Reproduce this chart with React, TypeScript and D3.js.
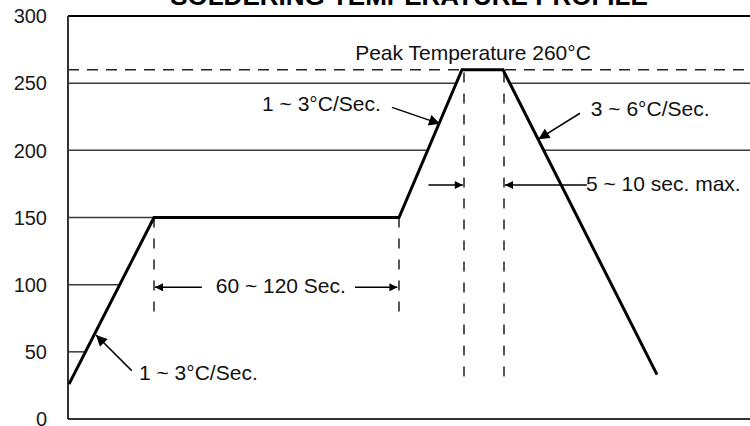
import React from 'react';
import * as d3 from 'd3';

// reflow profile (time in seconds, temperature in °C)
const profileTime = [0.5, 43, 165.5, 197, 217.5, 294.5];
const profileTemp = [26, 150, 150, 260, 260, 33];

const yTicks = [0, 50, 100, 150, 200, 250, 300];
const peakTemp = 260;
const title = 'SOLDERING TEMPERATURE PROFILE';

// dashed vertical markers
const markerTime = [43, 165.5, 198, 218];
const markerTop = [150, 150, 258, 258];
const markerBottom = [75, 77, 24, 24];

// annotation arrows [time, temp]
const arrowFrom = [[31.85, 36], [162, 232], [256, 227.6], [66.9, 98], [143.5, 98], [180.2, 174.2], [259.4, 174.2]];
const arrowTo = [[14, 62.5], [186, 219.7], [235.2, 208.3], [43.5, 98], [164.7, 98], [197.4, 174.2], [218.5, 174.2]];
const arrowBig = [true, true, true, false, false, false, false];

// annotation labels
const labelText = ['1 ~ 3°C/Sec.', '1 ~ 3°C/Sec.', '3 ~ 6°C/Sec.', 'Peak Temperature 260°C', '60 ~ 120 Sec.', '5 ~ 10 sec. max.'];
const labelTime = [35.5, 156.4, 261.4, 202.5, 106.4, 259];
const labelTemp = [29, 229.3, 225.8, 267.3, 93.6, 170];
const labelAnchor = ['start', 'end', 'start', 'middle', 'middle', 'start'];

const width = 750;
const height = 426;
const marginLeft = 68;
const marginTop = 16;
const marginBottom = 7;

const font = '"Liberation Sans", Arial, Helvetica, sans-serif';

export default function App() {
  const x = d3.scaleLinear().domain([0, 341]).range([marginLeft, width]);
  const y = d3.scaleLinear().domain([0, 300]).range([height - marginBottom, marginTop]);

  const pts: [number, number][] = profileTime.map((t, i) => [t, profileTemp[i]]);
  const line = d3.line<[number, number]>().x(d => x(d[0])).y(d => y(d[1]));
  const area = d3.area<[number, number]>().x(d => x(d[0])).y0(y(0)).y1(d => y(d[1]));

  // where the first ramp crosses a temperature
  const rampCross = (v: number) => {
    const t0 = profileTime[0], t1 = profileTime[1];
    const v0 = profileTemp[0], v1 = profileTemp[1];
    return t0 + ((v - v0) / (v1 - v0)) * (t1 - t0);
  };

  const gridColor = '#3a3a3a';

  return (
    <svg width={width} height={height} style={{ position: 'absolute', left: 0, top: 0, background: '#fff' }}>
      <defs>
        <marker id="headBig" viewBox="0 0 10 10" refX="10" refY="5" markerUnits="userSpaceOnUse"
          markerWidth="16" markerHeight="11" orient="auto">
          <path d="M0,0L10,5L0,10z" fill="#000" />
        </marker>
        <marker id="headSmall" viewBox="0 0 10 10" refX="10" refY="5" markerUnits="userSpaceOnUse"
          markerWidth="12" markerHeight="8" orient="auto">
          <path d="M0,0L10,5L0,10z" fill="#000" />
        </marker>
      </defs>

      <text x={(marginLeft + width) / 2} y={5} textAnchor="middle" fontFamily={font}
        fontWeight="bold" fontSize={26} fill="#000">{title}</text>

      {/* grid lines */}
      {yTicks.filter(v => v > 0 && v < 300).map(v => (
        <line key={v} x1={marginLeft} x2={v <= 150 ? x(rampCross(v)) : width}
          y1={y(v)} y2={y(v)} stroke={gridColor} strokeWidth={1.5} />
      ))}

      <line x1={marginLeft} x2={width} y1={y(300)} y2={y(300)} stroke="#000" strokeWidth={2} />
      <line x1={marginLeft} x2={width} y1={y(peakTemp)} y2={y(peakTemp)} stroke="#222"
        strokeWidth={1.5} strokeDasharray="11,8" />

      {/* hide the grid under the profile */}
      <path d={area(pts) ?? ''} fill="#fff" />

      {/* axes */}
      <line x1={marginLeft} x2={marginLeft} y1={y(300)} y2={y(0)} stroke="#333" strokeWidth={2} />
      <line x1={marginLeft} x2={width} y1={y(0)} y2={y(0)} stroke="#333" strokeWidth={2} />
      {yTicks.map(v => (
        <text key={v} x={47} y={y(v)} dy="0.36em" textAnchor="end" fontFamily={font}
          fontSize={20} fill="#1a1a1a">{v}</text>
      ))}

      {/* dashed markers */}
      {markerTime.map((t, i) => (
        <line key={i} x1={x(t)} x2={x(t)} y1={y(markerTop[i])} y2={y(markerBottom[i])}
          stroke="#222" strokeWidth={1.5} strokeDasharray="10,11" />
      ))}

      <path d={line(pts) ?? ''} fill="none" stroke="#000" strokeWidth={3} strokeLinejoin="miter" />

      {/* arrows */}
      {arrowFrom.map((f, i) => (
        <line key={i} x1={x(f[0])} y1={y(f[1])} x2={x(arrowTo[i][0])} y2={y(arrowTo[i][1])}
          stroke="#000" strokeWidth={1.5}
          markerEnd={arrowBig[i] ? 'url(#headBig)' : 'url(#headSmall)'} />
      ))}

      {labelText.map((s, i) => (
        <text key={i} x={x(labelTime[i])} y={y(labelTemp[i])} textAnchor={labelAnchor[i]}
          fontFamily={font} fontSize={21} fill="#111">{s}</text>
      ))}
    </svg>
  );
}
